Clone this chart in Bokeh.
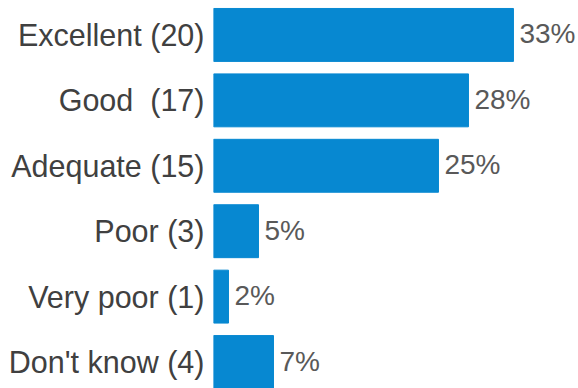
from bokeh.plotting import figure
from bokeh.models import Range1d, FixedTicker, ColumnDataSource
from bokeh.embed import file_html
from bokeh.resources import INLINE
from bokeh.core.properties import value

# Data (top to bottom)
categories = ["Excellent (20)", "Good\u00a0 (17)", "Adequate (15)", "Poor (3)", "Very poor (1)", "Don't know (4)"]
counts = [20, 17, 15, 3, 1, 4]
pct_labels = ["33%", "28%", "25%", "5%", "2%", "7%"]

total = sum(counts)
pcts = [100.0 * c / total for c in counts]
ypos = list(range(len(categories)))

BAR_H = 0.809
BLUE = "#0788D1"

src = ColumnDataSource(dict(y=ypos, pct=pcts, lab=pct_labels))

p = figure(width=578, height=388, output_backend="svg", toolbar_location=None,
           x_range=Range1d(0, 40.56),
           y_range=Range1d(len(categories) - 1 + BAR_H / 2, -BAR_H / 2 - 0.122),
           min_border_left=213, min_border_right=0, min_border_top=0, min_border_bottom=0)

p.hbar(y="y", left=0, right="pct", height=BAR_H, color=BLUE, source=src)
p.text(x="pct", y="y", text="lab", source=src, x_offset=6, y_offset=-1,
       text_align="left", text_baseline="middle",
       text_font=value("Liberation Sans"), text_font_size="28px", text_color="#595959")

p.xaxis.visible = False
p.yaxis.ticker = FixedTicker(ticks=ypos)
p.yaxis.major_label_overrides = {i: c for i, c in enumerate(categories)}
p.yaxis.axis_line_color = None
p.yaxis.major_tick_line_color = None
p.yaxis.minor_tick_line_color = None
p.yaxis.major_tick_out = 0
p.yaxis.major_tick_in = 0
p.yaxis.major_label_standoff = 9
p.yaxis.major_label_text_font = "Liberation Sans"
p.yaxis.major_label_text_font_size = "30.5px"
p.yaxis.major_label_text_color = "#404040"

p.grid.visible = False
p.outline_line_color = None
p.background_fill_color = "white"
p.border_fill_color = "white"

open("out.html", "w").write(file_html(p, INLINE))
